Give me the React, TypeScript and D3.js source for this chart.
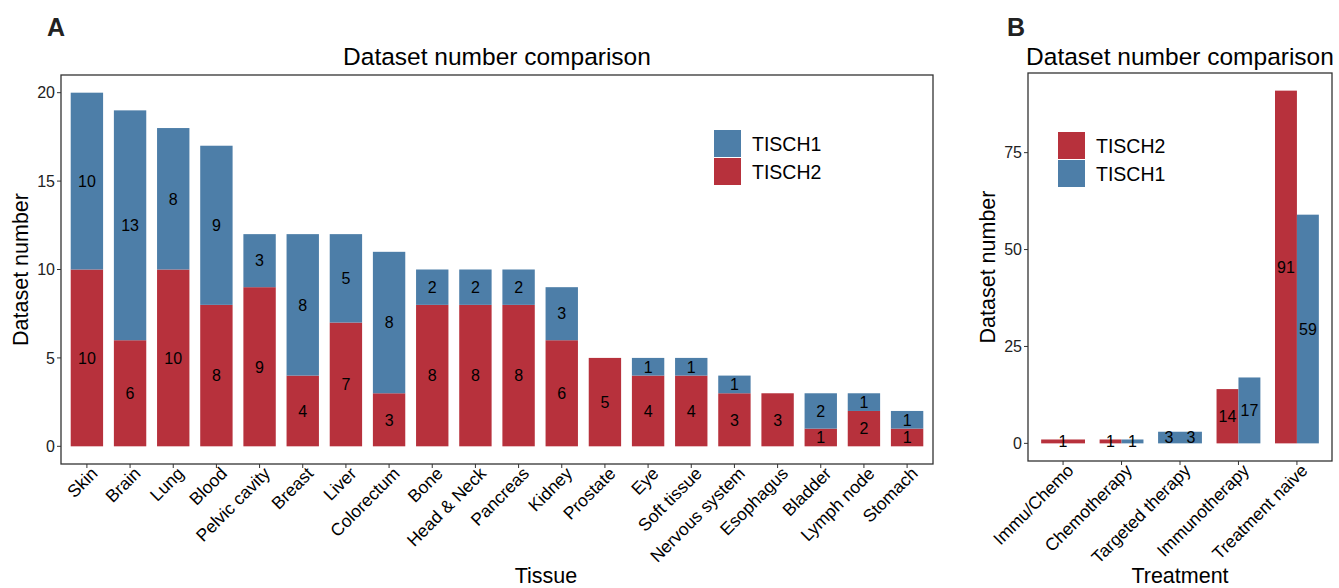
import React from 'react';
import * as d3 from 'd3';

// Panel A: datasets per tissue
const tissues = [
  'Skin', 'Brain', 'Lung', 'Blood', 'Pelvic cavity', 'Breast', 'Liver', 'Colorectum',
  'Bone', 'Head & Neck', 'Pancreas', 'Kidney', 'Prostate', 'Eye', 'Soft tissue',
  'Nervous system', 'Esophagus', 'Bladder', 'Lymph node', 'Stomach',
];
const tisch2ByTissue = [10, 6, 10, 8, 9, 4, 7, 3, 8, 8, 8, 6, 5, 4, 4, 3, 3, 1, 2, 1];
const tisch1ByTissue = [10, 13, 8, 9, 3, 8, 5, 8, 2, 2, 2, 3, 0, 1, 1, 1, 0, 2, 1, 1];
const tissueTicks = [0, 5, 10, 15, 20];

// Panel B: datasets per treatment (dodged)
const treatments = ['Immu/Chemo', 'Chemotherapy', 'Targeted therapy', 'Immunotherapy', 'Treatment naive'];
const treatmentGroups = [
  ['TISCH2'],
  ['TISCH2', 'TISCH1'],
  ['TISCH1', 'TISCH1'],
  ['TISCH2', 'TISCH1'],
  ['TISCH2', 'TISCH1'],
];
const treatmentValues = [[1], [1, 1], [3, 3], [14, 17], [91, 59]];
const treatmentTicks = [0, 25, 50, 75];

const colors: Record<string, string> = { TISCH2: '#B7313C', TISCH1: '#4D7EA8' };
const font = '"Liberation Sans", Arial, sans-serif';
const axisColor = '#333333';
const tickFont = 17.5;
const valueFont = 16;

const App: React.FC = () => {
  // ---- panel A geometry
  const aLeft = 61, aRight = 933, aTop = 75, aBottom = 464;
  const xA = d3.scaleLinear().domain([0.4, tissues.length + 0.6]).range([aLeft, aRight]);
  const yAmax = d3.max(tisch2ByTissue.map((v, i) => v + tisch1ByTissue[i])) as number;
  const yA = d3.scaleLinear().domain([-yAmax * 0.05, yAmax * 1.05]).range([aBottom, aTop]);
  const barW = 0.75;

  // ---- panel B geometry
  const bLeft = 1028, bRight = 1332, bTop = 73, bBottom = 461;
  const xB = d3.scaleLinear().domain([0.4, treatments.length + 0.6]).range([bLeft, bRight]);
  const yBmax = d3.max(treatmentValues.flat()) as number;
  const yB = d3.scaleLinear().domain([-yBmax * 0.05, yBmax * 1.05]).range([bBottom, bTop]);

  return (
    <svg width={1339} height={588} style={{ display: 'block', position: 'absolute', left: 0, top: 0 }}
      fontFamily={font}>
      <rect width={1339} height={588} fill="#fff" />

      {/* ================= Panel A ================= */}
      <text x={47} y={36} fontSize={25} fontWeight="bold" fill="#222">A</text>
      <text x={(aLeft + aRight) / 2} y={65} fontSize={24.5} textAnchor="middle" fill="#000">
        Dataset number comparison
      </text>

      {tissues.map((t, i) => {
        const cx = xA(i + 1);
        const x0 = xA(i + 1 - barW / 2);
        const w = xA(i + 1 + barW / 2) - x0;
        const r = tisch2ByTissue[i];
        const b = tisch1ByTissue[i];
        return (
          <g key={t}>
            <rect x={x0} y={yA(r)} width={w} height={yA(0) - yA(r)} fill={colors.TISCH2} />
            {b > 0 && (
              <rect x={x0} y={yA(r + b)} width={w} height={yA(r) - yA(r + b)} fill={colors.TISCH1} />
            )}
            <text x={cx} y={yA(r / 2)} dy="0.36em" textAnchor="middle" fontSize={valueFont} fill="#000">{r}</text>
            {b > 0 && (
              <text x={cx} y={yA(r + b / 2)} dy="0.36em" textAnchor="middle" fontSize={valueFont} fill="#000">{b}</text>
            )}
            <line x1={cx} x2={cx} y1={aBottom} y2={aBottom + 4} stroke={axisColor} />
            <text transform={`translate(${cx + 3},${aBottom + 2}) rotate(-45)`} textAnchor="end"
              dy="0.7em" fontSize={tickFont} fill="#000">{t}</text>
          </g>
        );
      })}

      {tissueTicks.map(v => (
        <g key={v}>
          <line x1={aLeft - 4} x2={aLeft} y1={yA(v)} y2={yA(v)} stroke={axisColor} />
          <text x={aLeft - 6} y={yA(v)} dy="0.36em" textAnchor="end" fontSize={16} fill="#222">{v}</text>
        </g>
      ))}
      <rect x={aLeft} y={aTop} width={aRight - aLeft} height={aBottom - aTop} fill="none"
        stroke={axisColor} strokeWidth={1.3} />

      <text transform={`translate(28,${(aTop + aBottom) / 2}) rotate(-90)`} textAnchor="middle"
        fontSize={21.5} fill="#000">Dataset number</text>
      <text x={546} y={583} textAnchor="middle" fontSize={21.5} fill="#000">Tissue</text>

      {/* legend A */}
      {['TISCH1', 'TISCH2'].map((g, i) => (
        <g key={g}>
          <rect x={714} y={130 + i * 28} width={27} height={27} fill={colors[g]} />
          <text x={752} y={143.5 + i * 28} dy="0.36em" fontSize={19.5} fill="#000">{g}</text>
        </g>
      ))}

      {/* ================= Panel B ================= */}
      <text x={1007} y={36} fontSize={25} fontWeight="bold" fill="#222">B</text>
      <text x={(bLeft + bRight) / 2} y={65} fontSize={24.5} textAnchor="middle" fill="#000">
        Dataset number comparison
      </text>

      {treatments.map((t, i) => {
        const cx = xB(i + 1);
        const groups = treatmentGroups[i];
        const vals = treatmentValues[i];
        const n = groups.length;
        const sub = d3.scaleBand<number>().domain(d3.range(n))
          .range([xB(i + 1 - barW / 2), xB(i + 1 + barW / 2)]);
        return (
          <g key={t}>
            {vals.map((v, j) => {
              const sx = sub(j) as number;
              return (
                <g key={j}>
                  <rect x={sx} y={yB(v)} width={sub.bandwidth()} height={yB(0) - yB(v)} fill={colors[groups[j]]} />
                  <text x={sx + sub.bandwidth() / 2} y={yB(v / 2)} dy="0.36em" textAnchor="middle"
                    fontSize={valueFont} fill="#000">{v}</text>
                </g>
              );
            })}
            <line x1={cx} x2={cx} y1={bBottom} y2={bBottom + 4} stroke={axisColor} />
            <text transform={`translate(${cx + 3},${bBottom + 2}) rotate(-45)`} textAnchor="end"
              dy="0.7em" fontSize={tickFont} fill="#000">{t}</text>
          </g>
        );
      })}

      {treatmentTicks.map(v => (
        <g key={v}>
          <line x1={bLeft - 4} x2={bLeft} y1={yB(v)} y2={yB(v)} stroke={axisColor} />
          <text x={bLeft - 6} y={yB(v)} dy="0.36em" textAnchor="end" fontSize={16} fill="#222">{v}</text>
        </g>
      ))}
      <rect x={bLeft} y={bTop} width={bRight - bLeft} height={bBottom - bTop} fill="none"
        stroke={axisColor} strokeWidth={1.3} />

      <text transform={`translate(995,${(bTop + bBottom) / 2}) rotate(-90)`} textAnchor="middle"
        fontSize={21.5} fill="#000">Dataset number</text>
      <text x={1180} y={583} textAnchor="middle" fontSize={21.5} fill="#000">Treatment</text>

      {/* legend B */}
      {['TISCH2', 'TISCH1'].map((g, i) => (
        <g key={g}>
          <rect x={1058} y={132 + i * 28} width={27} height={27} fill={colors[g]} />
          <text x={1096} y={145.5 + i * 28} dy="0.36em" fontSize={19.5} fill="#000">{g}</text>
        </g>
      ))}
    </svg>
  );
};

export default App;
